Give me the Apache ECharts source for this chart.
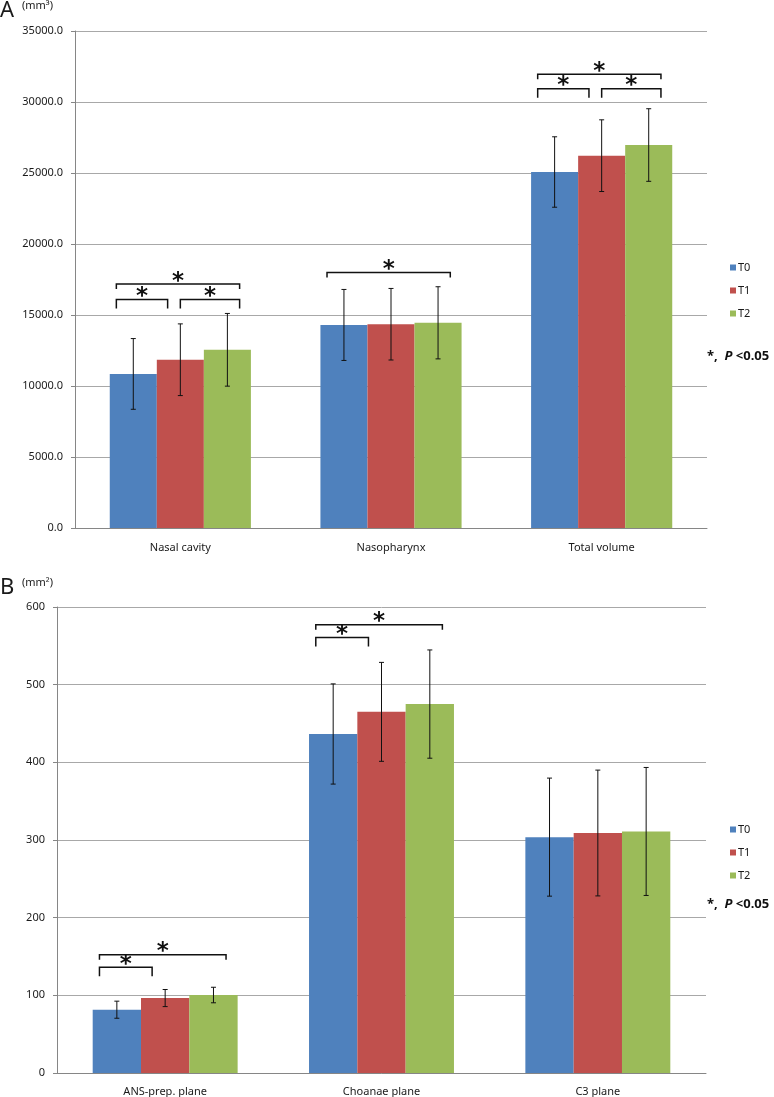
<!DOCTYPE html>
<html>
<head>
<meta charset="utf-8">
<script src="https://cdn.jsdelivr.net/npm/echarts@6/dist/echarts.min.js"></script>
<style>
  html, body { margin: 0; padding: 0; background: #fff; }
  #chart { width: 774px; height: 1097px; }
</style>
</head>
<body>
<div id="chart"></div>
<script>
// ── DATA ───────────────────────────────────────────
const seriesNames = ['T0', 'T1', 'T2'];
const colors = ['#4F81BD', '#C0504D', '#9BBB59'];

// panel A: volume (mm³)
const catsA = ['Nasal cavity', 'Nasopharynx', 'Total volume'];
const t0A = [10850, 14300, 25070];
const t1A = [11850, 14350, 26220];
const t2A = [12550, 14450, 26970];
const errT0A = [2490, 2500, 2480];
const errT1A = [2525, 2520, 2525];
const errT2A = [2560, 2540, 2556];
// [category, from series, to series, bracket level]
const bracketsA = [
  [0, 0, 1, 16100], [0, 1, 2, 16100], [0, 0, 2, 17180],
  [1, 0, 2, 18000],
  [2, 0, 1, 30940], [2, 1, 2, 30940], [2, 0, 2, 31950],
];

// panel B: area (mm²)
const catsB = ['ANS-prep. plane', 'Choanae plane', 'C3 plane'];
const t0B = [81.5, 436.5, 303.7];
const t1B = [96.5, 465, 309];
const t2B = [100.4, 475, 311];
const errT0B = [11, 64.5, 76];
const errT1B = [11, 63.7, 81];
const errT2B = [10, 69.7, 82.4];
const bracketsB = [
  [0, 0, 1, 136], [0, 0, 2, 152.3],
  [1, 0, 1, 560.6], [1, 0, 2, 577],
];

// ── HELPERS ────────────────────────────────────────
const GAP = 0.33;
const FONT = 'Noto Sans';
const INK = '#1a1a1a';

function barWidth(api) {
  return api.size([1, 0])[0] * (1 - GAP) / 3;
}

function errorSeries(axis, vals, errs) {
  const data = [];
  vals.forEach((arr, s) => arr.forEach((v, c) => data.push([c, s, v, errs[s][c]])));
  return {
    type: 'custom', xAxisIndex: axis, yAxisIndex: axis, z: 10, silent: true,
    encode: { x: 0, y: 2 },
    data,
    renderItem(params, api) {
      const c = api.value(0), s = api.value(1), v = api.value(2), e = api.value(3);
      const bw = barWidth(api);
      const x = api.coord([c, v])[0] + (s - 1) * bw;
      const yt = api.coord([c, v + e])[1];
      const yb = api.coord([c, v - e])[1];
      const st = { stroke: '#111', lineWidth: 1 };
      return { type: 'group', children: [
        { type: 'line', shape: { x1: x, y1: yt, x2: x, y2: yb }, style: st },
        { type: 'line', shape: { x1: x - 2.5, y1: yt, x2: x + 2.5, y2: yt }, style: st },
        { type: 'line', shape: { x1: x - 2.5, y1: yb, x2: x + 2.5, y2: yb }, style: st },
      ]};
    },
  };
}

function bracketSeries(axis, brackets) {
  return {
    type: 'custom', xAxisIndex: axis, yAxisIndex: axis, z: 11, silent: true,
    encode: { x: 0, y: 3 },
    data: brackets,
    renderItem(params, api) {
      const c = api.value(0), a = api.value(1), b = api.value(2), lvl = api.value(3);
      const bw = barWidth(api);
      const p = api.coord([c, lvl]);
      const x1 = p[0] + (a - 1) * bw + (a === 0 ? -0.36 : 0) * bw;
      const x2 = p[0] + (b - 1) * bw + (b === 2 ? 0.26 : -0.27) * bw;
      const y = p[1];
      const leg = b - a === 1 ? 9 : 5;
      return { type: 'group', children: [
        { type: 'polyline', shape: { points: [[x1, y + leg], [x1, y], [x2, y], [x2, y + leg]] },
          style: { stroke: '#111', lineWidth: 1.5, fill: null } },
        { type: 'text', x: (x1 + x2) / 2, y: y + 9,
          style: { text: '*', fill: '#111', font: 'bold 23px "DejaVu Sans"',
                   align: 'center', verticalAlign: 'bottom' } },
      ]};
    },
  };
}

function barSeries(axis, vals) {
  return vals.map((arr, s) => ({
    name: seriesNames[s], type: 'bar', xAxisIndex: axis, yAxisIndex: axis,
    data: arr, barGap: '0%', barCategoryGap: (GAP * 100) + '%',
    itemStyle: { color: colors[s] },
  }));
}

function yAxis(grid, max, interval, dec) {
  return {
    type: 'value', gridIndex: grid, min: 0, max, interval,
    axisLine: { show: true, lineStyle: { color: '#868686' } },
    axisTick: { show: true, length: 4, lineStyle: { color: '#868686' } },
    axisLabel: { color: INK, fontFamily: FONT, fontSize: 11, margin: 12,
                 formatter: v => v.toFixed(dec) },
    splitLine: { lineStyle: { color: '#a8a8a8' } },
  };
}

function xAxis(grid, cats, margin) {
  return {
    type: 'category', gridIndex: grid, data: cats,
    axisLine: { lineStyle: { color: '#868686' } },
    axisTick: { length: 4, lineStyle: { color: '#868686' } },
    axisLabel: { color: INK, fontFamily: FONT, fontSize: 11, margin },
  };
}

function legend(top) {
  return {
    data: seriesNames, orient: 'vertical', left: 725, top,
    icon: 'rect', itemWidth: 6, itemHeight: 6, itemGap: 12,
    textStyle: { color: INK, fontFamily: FONT, fontSize: 11, padding: [0, 0, 0, -3] },
    selectedMode: false,
  };
}

function pText(top) {
  return {
    type: 'text', left: 707, top,
    style: {
      text: '{a|*,  }{b|P}{a| <0.05}',
      rich: {
        a: { font: 'bold 13px "Noto Sans"', fill: '#111' },
        b: { font: 'italic bold 13px "Noto Sans"', fill: '#111' },
      },
    },
  };
}

function panelLabel(letter, unit, top) {
  return [
    { type: 'text', left: 0, top, style: { text: letter, font: '22px "Noto Sans"', fill: INK } },
    { type: 'text', left: 22, top: top, style: { text: unit, font: '11px "Noto Sans"', fill: INK } },
  ];
}

// ── CHART ──────────────────────────────────────────
const chart = echarts.init(document.getElementById('chart'));

chart.setOption({
  animation: false,
  backgroundColor: '#fff',
  grid: [
    { left: 75, right: 67, top: 31, bottom: 569 },
    { left: 57, right: 68, top: 607, bottom: 24 },
  ],
  xAxis: [xAxis(0, catsA, 14), xAxis(1, catsB, 13)],
  yAxis: [yAxis(0, 35000, 5000, 1), yAxis(1, 600, 100, 0)],
  legend: [legend(257), legend(819)],
  series: [
    ...barSeries(0, [t0A, t1A, t2A]),
    ...barSeries(1, [t0B, t1B, t2B]),
    errorSeries(0, [t0A, t1A, t2A], [errT0A, errT1A, errT2A]),
    errorSeries(1, [t0B, t1B, t2B], [errT0B, errT1B, errT2B]),
    bracketSeries(0, bracketsA),
    bracketSeries(1, bracketsB),
  ],
  graphic: [
    ...panelLabel('A', '(mm³)', 0),
    ...panelLabel('B', '(mm²)', 577),
    pText(350),
    pText(898),
  ],
});

window.addEventListener('resize', () => chart.resize());
</script>
</body>
</html>
